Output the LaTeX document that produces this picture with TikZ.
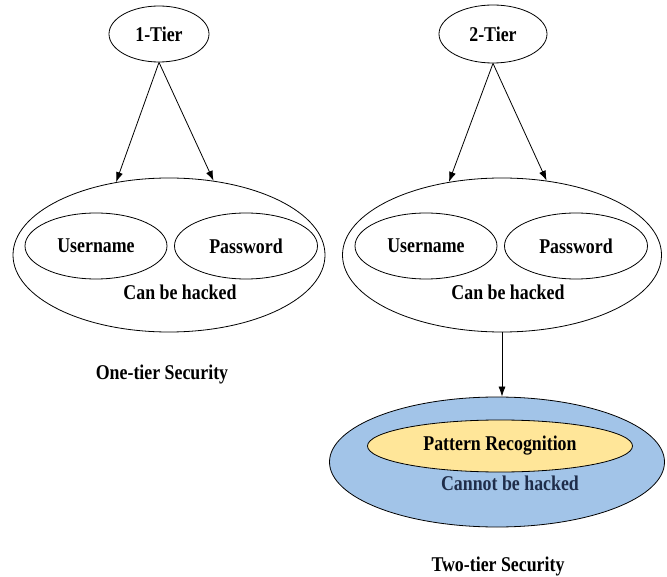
\documentclass[tikz,border=0pt]{standalone}
\usepackage{fontspec}
\setmainfont{Liberation Serif}[FakeStretch=0.85]
\usetikzlibrary{shapes.geometric,arrows.meta}
\definecolor{skyfill}{HTML}{A2C4E8}
\definecolor{sandfill}{HTML}{FFE699}
\definecolor{navytext}{HTML}{1F2D4A}
\tikzset{
  oval/.style={draw=black, line width=0.8pt, ellipse, inner sep=0pt},
  lbl/.style={font=\fontsize{21}{24}\selectfont\bfseries, inner sep=0pt},
  arr/.style={-{Latex[length=10pt,width=7pt]}, line width=0.8pt},
}
\begin{document}
\begin{tikzpicture}[x=1pt,y=-1pt]
\useasboundingbox (0,0) rectangle (667,577);
% left
\node[oval, minimum width=100pt, minimum height=56pt, lbl] (t1) at (159,34) {1-Tier};
\node[oval, minimum width=312pt, minimum height=154pt] (b1) at (169,255) {};
\node[oval, minimum width=142pt, minimum height=66pt, lbl] (u1) at (96,246) {Username};
\node[oval, minimum width=143pt, minimum height=66pt, lbl] (p1) at (246,246) {Password};
\node[lbl] (c1) at (180,292) {Can be hacked};
\node[lbl] (s1) at (162,374) {One-tier Security};
\draw[arr] (t1.south) -- (b1.126);
\draw[arr] (t1.south) -- (b1.59);
% right
\node[oval, minimum width=108pt, minimum height=58pt, lbl] (t2) at (493,34) {2-Tier};
\node[oval, minimum width=319pt, minimum height=154pt] (b2) at (502,255) {};
\node[oval, minimum width=142pt, minimum height=66pt, lbl] (u2) at (426,246) {Username};
\node[oval, minimum width=143pt, minimum height=66pt, lbl] (p2) at (576,246) {Password};
\node[lbl] (c2) at (508,292) {Can be hacked};
\draw[arr] (t2.south) -- (b2.126);
\draw[arr] (t2.south) -- (b2.59);
\node[oval, fill=skyfill, minimum width=335pt, minimum height=130pt] (blue) at (497,462) {};
\node[oval, fill=sandfill, minimum width=265pt, minimum height=52pt, lbl] (pr) at (500,446) {Pattern Recognition};
\node[lbl, text=navytext] (cn) at (510,483) {Cannot be hacked};
\node[lbl] (s2) at (498,566) {Two-tier Security};
\draw[arr] (b2.south) -- (b2.south |- blue.north);
\end{tikzpicture}
\end{document}
